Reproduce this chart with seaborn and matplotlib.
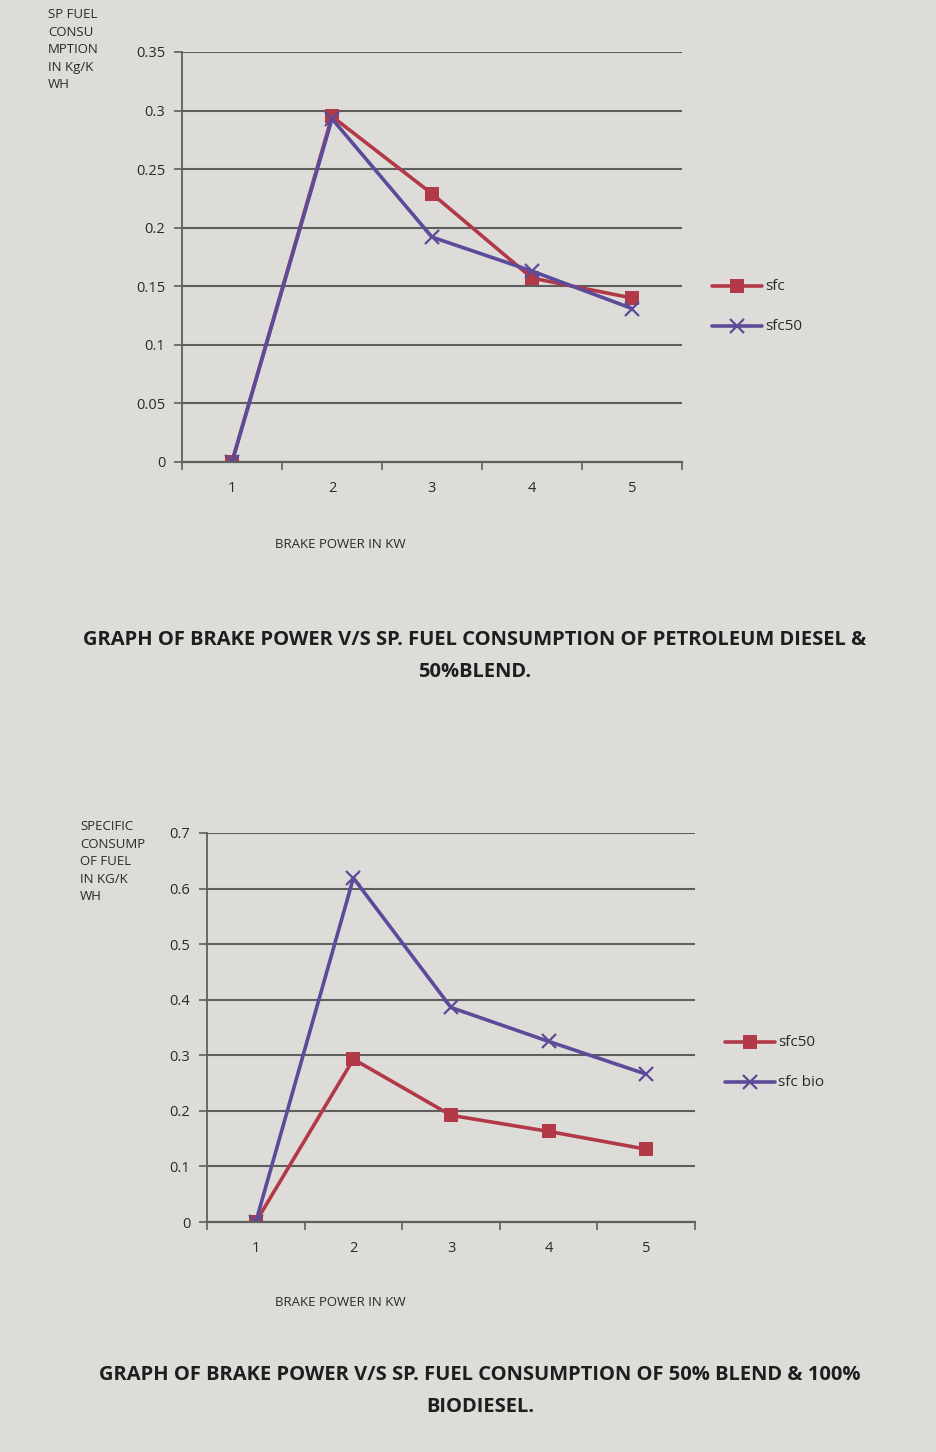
import matplotlib
matplotlib.use("Agg")
import matplotlib.pyplot as plt
from matplotlib.ticker import FixedLocator, NullFormatter
import seaborn as sns
import pandas as pd

# Brake power steps (kW) on the horizontal axis
brake_power = [1, 2, 3, 4, 5]

# Specific fuel consumption (kg/kWh)
sfc_diesel = [0.0, 0.295, 0.229, 0.157, 0.140]
sfc_blend50 = [0.0, 0.293, 0.192, 0.163, 0.131]
sfc_biodiesel = [0.0, 0.619, 0.386, 0.325, 0.266]

top_ticks = [0, 0.05, 0.1, 0.15, 0.2, 0.25, 0.3, 0.35]
top_tick_labels = ["0", "0.05", "0.1", "0.15", "0.2", "0.25", "0.3", "0.35"]
bottom_ticks = [0, 0.1, 0.2, 0.3, 0.4, 0.5, 0.6, 0.7]
bottom_tick_labels = ["0", "0.1", "0.2", "0.3", "0.4", "0.5", "0.6", "0.7"]

RED = "#b23a48"
PURPLE = "#5b4b98"
GRID = "#5e5e5e"
TEXT = "#2a2a2a"
PAGE = "#dddcd9"

sns.set_theme(style="white")
plt.rcParams["font.family"] = ["Open Sans", "DejaVu Sans"]

W, H = 937, 1452
fig = plt.figure(figsize=(W / 100, H / 100), dpi=100, facecolor=PAGE)


def box(x0, y0, x1, y1):
    return [x0 / W, 1 - y1 / H, (x1 - x0) / W, (y1 - y0) / H]


def draw_panel(ax, names, series, ticks, tick_labels, ymax):
    frames = []
    for name, vals in zip(names, series):
        frames.append(pd.DataFrame({"power": brake_power, "sfc": vals, "series": name}))
    df = pd.concat(frames, ignore_index=True)
    palette = {names[0]: RED, names[1]: PURPLE}
    markers = {names[0]: "s", names[1]: "X"}
    sns.lineplot(data=df, x="power", y="sfc", hue="series", style="series",
                 palette=palette, markers=markers, dashes=False, linewidth=2.6,
                 markersize=10, markeredgewidth=0, ax=ax, legend=False)
    # thin "x" crosses for the second series
    for line in ax.get_lines()[1:]:
        line.set_marker("x")
        line.set_markersize(10)
        line.set_markeredgewidth(1.6)
        line.set_markeredgecolor(PURPLE)
    ax.set_facecolor("none")
    ax.set_xlim(0.5, 5.5)
    ax.set_ylim(0, ymax)
    ax.set_yticks(ticks)
    ax.set_yticklabels(tick_labels, color=TEXT, fontsize=10.5)
    ax.set_xticks(brake_power)
    ax.set_xticklabels([str(v) for v in brake_power], color=TEXT, fontsize=10.5)
    ax.xaxis.set_minor_locator(FixedLocator([0.5, 1.5, 2.5, 3.5, 4.5, 5.5]))
    ax.xaxis.set_minor_formatter(NullFormatter())
    ax.tick_params(axis="x", which="major", bottom=True, length=0, pad=14)
    ax.tick_params(axis="x", which="minor", bottom=True, length=6, width=1.2,
                   color=GRID, direction="out")
    ax.tick_params(axis="y", left=True, length=6, width=1.2, color=GRID,
                   direction="out", pad=6)
    ax.grid(axis="y", color=GRID, linewidth=1.5)
    ax.set_axisbelow(True)
    for side in ("top", "right"):
        ax.spines[side].set_visible(False)
    ax.spines["left"].set_color(GRID)
    ax.spines["left"].set_linewidth(1.3)
    ax.spines["bottom"].set_color(GRID)
    ax.spines["bottom"].set_linewidth(1.6)
    ax.set_xlabel("")
    ax.set_ylabel("")


def legend_entry(x, y, label, color, marker):
    fig.lines.append(plt.Line2D([x / W, (x + 50) / W], [1 - y / H, 1 - y / H],
                                transform=fig.transFigure, color=color, linewidth=2.6))
    if marker == "s":
        fig.lines.append(plt.Line2D([(x + 25) / W], [1 - y / H], transform=fig.transFigure,
                                    marker="s", markersize=10, color=color, markeredgewidth=0))
    else:
        fig.lines.append(plt.Line2D([(x + 25) / W], [1 - y / H], transform=fig.transFigure,
                                    marker="x", markersize=10, color=color, markeredgewidth=1.6,
                                    linestyle="none"))
    fig.text((x + 53) / W, 1 - y / H, label, color=TEXT, fontsize=11, va="center", ha="left")


# ---- upper chart: diesel vs 50% blend ----
ax1 = fig.add_axes(box(182, 52, 682, 462))
draw_panel(ax1, ["sfc", "sfc50"], [sfc_diesel, sfc_blend50], top_ticks, top_tick_labels, 0.35)
fig.text(48 / W, 1 - 8 / H, "SP FUEL\nCONSU\nMPTION\nIN Kg/K\nWH", fontsize=9.5,
         color=TEXT, va="top", ha="left", linespacing=1.45)
fig.text(340 / W, 1 - 545 / H, "BRAKE POWER IN KW", fontsize=9.5, color=TEXT,
         ha="center", va="center")
legend_entry(712, 286, "sfc", RED, "s")
legend_entry(712, 326, "sfc50", PURPLE, "x")
fig.text(475 / W, 1 - 640 / H,
         "GRAPH OF BRAKE POWER V/S SP. FUEL CONSUMPTION OF PETROLEUM DIESEL &",
         fontsize=14.5, fontweight="bold", color="#1e1e1e", ha="center", va="center")
fig.text(475 / W, 1 - 672 / H, "50%BLEND.", fontsize=14.5, fontweight="bold",
         color="#1e1e1e", ha="center", va="center")

# ---- lower chart: 50% blend vs biodiesel ----
ax2 = fig.add_axes(box(207, 833, 695, 1222))
draw_panel(ax2, ["sfc50", "sfc bio"], [sfc_blend50, sfc_biodiesel], bottom_ticks,
           bottom_tick_labels, 0.7)
fig.text(80 / W, 1 - 820 / H, "SPECIFIC\nCONSUMP\nOF FUEL\nIN KG/K\nWH", fontsize=9.5,
         color=TEXT, va="top", ha="left", linespacing=1.45)
fig.text(340 / W, 1 - 1302 / H, "BRAKE POWER IN KW", fontsize=9.5, color=TEXT,
         ha="center", va="center")
legend_entry(725, 1042, "sfc50", RED, "s")
legend_entry(725, 1082, "sfc bio", PURPLE, "x")
fig.text(480 / W, 1 - 1375 / H,
         "GRAPH OF BRAKE POWER V/S SP. FUEL CONSUMPTION OF 50% BLEND & 100%",
         fontsize=14.5, fontweight="bold", color="#1e1e1e", ha="center", va="center")
fig.text(480 / W, 1 - 1407 / H, "BIODIESEL.", fontsize=14.5, fontweight="bold",
         color="#1e1e1e", ha="center", va="center")

fig.savefig("out.png", dpi=100, facecolor=PAGE)
